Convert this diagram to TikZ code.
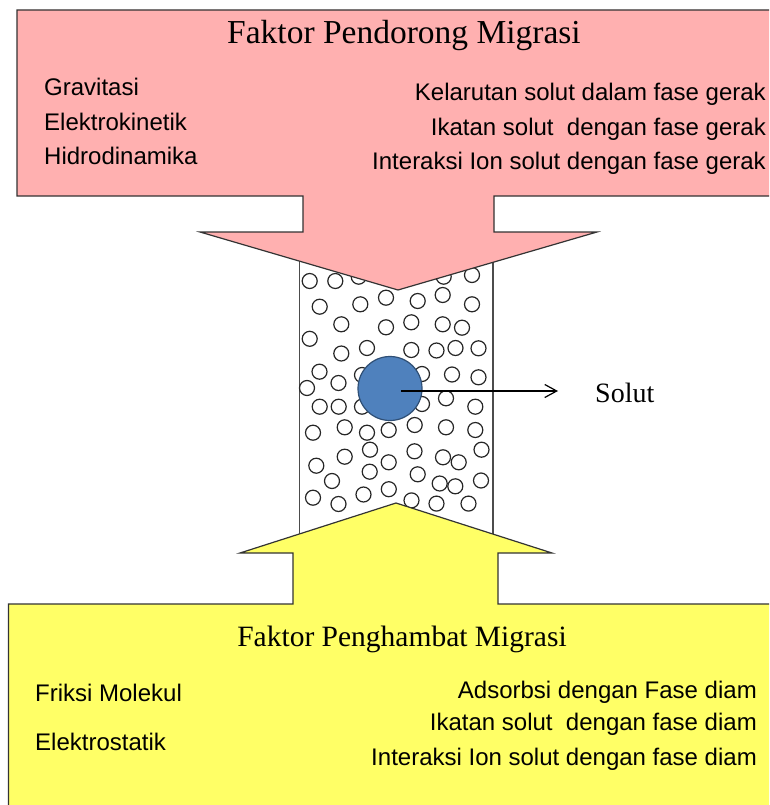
\documentclass[tikz,border=0pt]{standalone}
\usepackage{fontspec}
\setmainfont{Liberation Serif}
\setsansfont{Liberation Sans}
\usetikzlibrary{arrows.meta}
\definecolor{pushpink}{HTML}{FFB0B0}
\definecolor{holdyellow}{HTML}{FFFF66}
\definecolor{soluteblue}{HTML}{4F81BD}
\definecolor{soluteedge}{HTML}{2F4F75}
\begin{document}
\begin{tikzpicture}[x=1pt, y=-1pt,
  outline/.style={draw=black!80, line width=1.2pt},
  grain/.style={draw=black!85, line width=1.2pt},
  heading/.style={inner sep=0pt},
  factor/.style={font=\sffamily\fontsize{24}{26}\selectfont, inner sep=0pt}]
\useasboundingbox (0,0) rectangle (769,805);
\clip (0,0) rectangle (769,805);

% kolom dengan partikel fase diam
\draw[outline, draw=black!70, fill=white] (299.5,240) rectangle (493,570);
\foreach \gx/\gy in {309.7/281, 335.3/281, 358.7/276.7, 443.7/276.7, 472/275,
  319.7/306.7, 360.3/304.3, 386/297.7, 417.7/301, 442.7/295, 472/304.3,
  341.3/324.3, 386/327.3, 411.3/322.3, 442.7/324.3, 462/327.7, 309.7/338.8,
  341.3/353.5, 367/348, 411.3/350, 436.5/350.5, 455.5/348, 478.5/348.3,
  319.5/371.7, 362/375, 422/374, 452/374.5, 478.5/377.3, 307/388, 338.5/383,
  319.7/406.7, 338.7/406.7, 362/406.7, 422/404, 446/398.3, 475.3/406.7,
  313/432.7, 344.7/427.3, 367/432.7, 388.7/430, 414.7/425, 446/427.3, 475.3/430,
  370/449.7, 414.5/451.3, 481.5/449.7,
  344.7/456.7, 316.3/465.7, 388.7/462.3, 443/457.3, 458.7/462.3,
  369.7/471.7, 332/481, 417.7/474.3, 439.7/483.5, 455.3/486.3, 481/480.5,
  313/497.7, 338.5/504, 363.5/494.5, 388.8/489.2, 411.5/500.4, 436.5/503.6, 468.5/503.6}
  \draw[grain] (\gx,\gy) circle (7.5pt);

% solut
\node[circle, draw=soluteedge, fill=soluteblue, line width=1.2pt, minimum size=64pt, inner sep=0pt] (solute) at (390,388.5) {};
\node[heading, anchor=base west, font=\fontsize{28}{30}\selectfont] (solutlabel) at (595,402) {Solut};
\coordinate (solutstart) at ([xshift=11pt, yshift=-2.5pt]solute.center);
\draw[-{Straight Barb[length=12pt, width=13pt]}, line width=1.2pt, shorten >=37pt] (solutstart) -- (solutstart -| solutlabel.west);

% panah pendorong
\draw[outline, fill=pushpink] (17,10) -- (790,10) -- (790,196) -- (494,196) -- (494,232) -- (597,232)
  -- (398,290) -- (200,232) -- (303,232) -- (303,196) -- (17,196) -- cycle;
\node[heading, anchor=base, font=\fontsize{33.5}{36}\selectfont] (pushtitle) at (404,44) {Faktor Pendorong Migrasi};
\node[factor, anchor=base west] (gravity) at (44,96) {Gravitasi};
\node[factor, anchor=base west] (electrokin) at (44,131) {Elektrokinetik};
\node[factor, anchor=base west] (hydro) at (44,165) {Hidrodinamika};
\node[factor, anchor=base east] (dissolve) at (766,101) {Kelarutan solut dalam fase gerak};
\node[factor, anchor=base east] (bindmob) at (766,136) {Ikatan solut~ dengan fase gerak};
\node[factor, anchor=base east] (ionmob) at (766,170) {Interaksi Ion solut dengan fase gerak};

% panah penghambat
\draw[outline, fill=holdyellow] (8.5,604) -- (293,604) -- (293,553) -- (240,553) -- (396,503)
  -- (552,553) -- (498,553) -- (498,604) -- (790,604) -- (790,820) -- (8.5,820) -- cycle;
\node[heading, anchor=base, font=\fontsize{29.5}{32}\selectfont] (holdtitle) at (402,646) {Faktor Penghambat Migrasi};
\node[factor, anchor=base west] (friction) at (35,701) {Friksi Molekul};
\node[factor, anchor=base west] (electrostat) at (35,750) {Elektrostatik};
\node[factor, anchor=base east] (adsorb) at (757,698) {Adsorbsi dengan Fase diam};
\node[factor, anchor=base east] (bindstat) at (757,730) {Ikatan solut~ dengan fase diam};
\node[factor, anchor=base east] (ionstat) at (757,765) {Interaksi Ion solut dengan fase diam};
\end{tikzpicture}
\end{document}
